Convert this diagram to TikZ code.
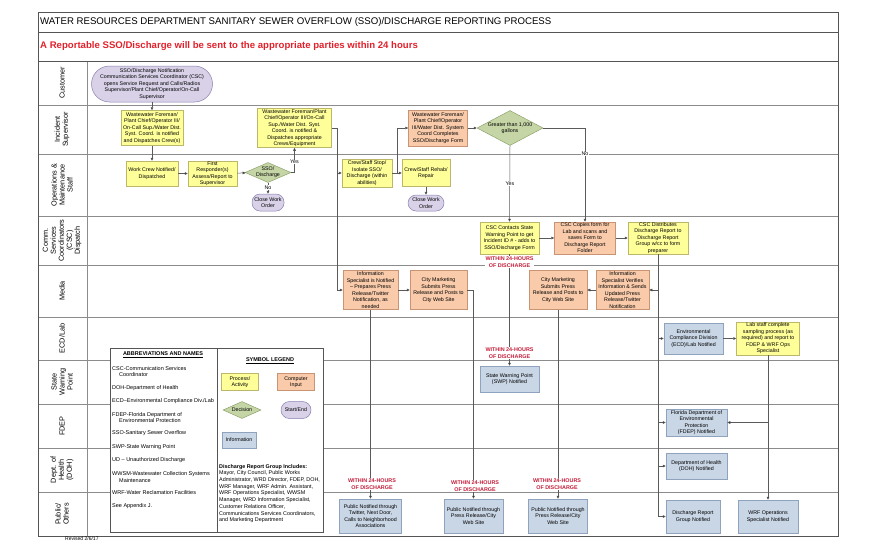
\documentclass[tikz,border=0pt]{standalone}
\usepackage{fontspec}
\setmainfont{Liberation Sans}
\usetikzlibrary{shapes.geometric,arrows.meta}
\definecolor{yfill}{HTML}{FFFF99}
\definecolor{ydraw}{HTML}{BDB76B}
\definecolor{ofill}{HTML}{F9CBAA}
\definecolor{odraw}{HTML}{C89474}
\definecolor{gfill}{HTML}{C5D5A6}
\definecolor{gdraw}{HTML}{8FA36E}
\definecolor{pfill}{HTML}{D8D1E8}
\definecolor{pdraw}{HTML}{8A80AE}
\definecolor{bfill}{HTML}{C9D6E6}
\definecolor{bdraw}{HTML}{8FA3BE}
\definecolor{titlered}{HTML}{E2202B}
\definecolor{lblred}{HTML}{C41E3A}
\definecolor{laneline}{HTML}{8C8C8C}
\definecolor{frameline}{HTML}{555555}
\definecolor{connc}{HTML}{5A5A5A}
\begin{document}
\begin{tikzpicture}[x=1pt,y=-1pt,
  base/.style={align=center, inner sep=0.5pt, font=\fontsize{5.3}{6.5}\selectfont, line width=0.5pt},
  proc/.style={base, rectangle, draw=ydraw, fill=yfill},
  comp/.style={base, rectangle, draw=odraw, fill=ofill},
  info/.style={base, rectangle, draw=bdraw, fill=bfill},
  term/.style={base, rectangle, rounded corners=#1, draw=pdraw, fill=pfill},
  dec/.style={base, diamond, draw=gdraw, fill=gfill, inner sep=0pt},
  dtext/.style={align=center, inner sep=0pt, font=\fontsize{5.3}{6}\selectfont},
  sz/.style 2 args={minimum width=#1, minimum height=#2},
  conn/.style={draw=connc, line width=0.5pt, -{Triangle[length=3pt,width=2.6pt,fill=black]}},
  lbl/.style={font=\fontsize{5.3}{6}\selectfont, fill=white, inner sep=0.6pt},
  red24/.style={font=\bfseries\fontsize{5.4}{6.3}\selectfont, text=lblred, align=center, fill=white, inner sep=0.5pt},
  lane/.style={rotate=90, align=center, font=\fontsize{7.3}{8}\selectfont},
  leg/.style={anchor=west, align=left, font=\fontsize{5.5}{6.8}\selectfont, inner sep=0pt},
  laneln/.style={draw=laneline, line width=0.6pt},
]
\useasboundingbox (0,0) rectangle (880,542);
% frame and lanes
\foreach \yy in {105,154,216,265,317,360,404,448,492} {\draw[laneln] (38,\yy) -- (838,\yy);}
\draw[laneln] (87,61) -- (87,536);
\draw[frameline, line width=0.6pt] (38,32) -- (838,32);
\draw[frameline, line width=0.6pt] (38,61) -- (838,61);
\draw[frameline, line width=0.8pt] (38,12) rectangle (838,536);
\node[anchor=west, inner sep=0pt, font=\fontsize{9.65}{11}\selectfont] (title) at (40,22) {WATER RESOURCES DEPARTMENT SANITARY SEWER OVERFLOW (SSO)/DISCHARGE REPORTING PROCESS};
\node[anchor=west, inner sep=0pt, text=titlered, font=\bfseries\fontsize{9.6}{11}\selectfont] (subtitle) at (40,46.5) {A Reportable SSO/Discharge will be sent to the appropriate parties within 24 hours};
% lane labels
\node[lane] (l1) at (62,83) {Customer};
\node[lane] (l2) at (62,129.5) {Incident\\Supervisor};
\node[lane] (l3) at (62,185) {Operations \&\\Maintenance\\Staff};
\node[lane] (l4) at (62,240.5) {Comm.\\Services\\Coordinators\\(CSC)\\Dispatch};
\node[lane] (l5) at (62,291) {Media};
\node[lane] (l6) at (62,338.5) {ECD/Lab};
\node[lane] (l7) at (62,382) {State\\Warning\\Point};
\node[lane] (l8) at (62,426) {FDEP};
\node[lane] (l9) at (62,470) {Dept. of\\Health\\(DOH)};
\node[lane] (l10) at (62,514) {Public/\\Others};
% legend box
\draw[fill=white, draw=frameline, line width=0.7pt] (110,348) rectangle (323,532);
\draw[frameline, line width=0.7pt] (217,348) -- (217,532);
\node[inner sep=0pt, font=\bfseries\fontsize{5.5}{6}\selectfont] (abh) at (163,355) {\underline{ABBREVIATIONS AND NAMES}};
\node[leg] (a1) at (112,371.5) {CSC-Communication Services\\\hspace{7pt}Coordinator};
\node[leg] (a2) at (112,388) {DOH-Department of Health};
\node[leg] (a3) at (112,401) {ECD–Environmental Compliance Div./Lab};
\node[leg] (a4) at (112,417.5) {FDEP-Florida Department of\\\hspace{7pt}Environmental Protection};
\node[leg] (a5) at (112,433) {SSO-Sanitary Sewer Overflow};
\node[leg] (a6) at (112,447) {SWP-State Warning Point};
\node[leg] (a7) at (112,460) {UD – Unauthorized Discharge};
\node[leg] (a8) at (112,477) {WWSM-Wastewater Collection Systems\\\hspace{7pt}Maintenance};
\node[leg] (a9) at (112,493) {WRF-Water Reclamation Facilities};
\node[leg] (a10) at (112,506) {See Appendix J.};
\node[inner sep=0pt, font=\bfseries\fontsize{5.5}{6}\selectfont] (slh) at (270,361) {\underline{SYMBOL LEGEND}};
\node[proc, sz={37}{17}] (lg1) at (240,382) {Process/\\Activity};
\node[comp, sz={37}{17}] (lg2) at (296,382) {Computer\\Input};
\node[dec, sz={38}{17}, label={[dtext]center:Decision}] (lg3) at (242,410) {};
\node[term=8.5, sz={30}{17}] (lg4) at (296,410) {Start/End};
\node[info, sz={34}{16}] (lg5) at (239,440) {Information};
\node[anchor=north west, align=left, inner sep=0pt, font=\fontsize{5.4}{6.7}\selectfont] (drg) at (219,464) {\textbf{Discharge Report Group Includes:}\\Mayor, City Council, Public Works\\Administrator, WRD Director, FDEP, DOH,\\WRF Manager, WRF Admin. Assistant,\\WRF Operations Specialist, WWSM\\Manager, WRD Information Specialist,\\Customer Relations Officer,\\Communications Services Coordinators,\\and Marketing Department};
\node[anchor=west, inner sep=0pt, font=\fontsize{5}{6}\selectfont] (rev) at (65,539) {Revised 2/6/17};
% customer
\node[term=18, sz={121}{36}, font=\fontsize{5.3}{6.6}\selectfont] (cust) at (152,84) {SSO/Discharge Notification\\Communication Services Coordinator (CSC)\\opens Service Request and Calls/Radios\\Supervisor/Plant Chief/Operator/On-Call\\Supervisor};
% incident supervisor
\node[proc, sz={62}{35}] (i1) at (152,128) {Wastewater Foreman/\\Plant Chief/Operator III/\\On-Call Sup./Water Dist.\\Syst. Coord. is notified\\and Dispatches Crew(s)};
\node[proc, sz={74}{39}] (i2) at (294.5,128) {Wastewater Foreman/Plant\\Chief/Operator III/On-Call\\Sup./Water Dist. Syst.\\Coord. is notified \&\\Dispatches appropriate\\Crews/Equipment};
\node[comp, sz={59}{36}] (i3) at (438,128) {Wastewater Foreman/\\Plant Chief/Operator\\III/Water Dist. System\\Coord Completes\\SSO/Discharge Form};
\node[dec, sz={66}{35}, label={[dtext]center:Greater than 1,000\\gallons}] (d1) at (510,128) {};
% operations
\node[proc, sz={52}{25}] (wc) at (152,173.5) {Work Crew Notified/\\Dispatched};
\node[proc, sz={49}{25}] (fr) at (212.5,173.5) {First\\Responder(s)\\Assess/Report to\\Supervisor};
\node[dec, sz={46}{20}, label={[dtext]center:SSO/\\Discharge}] (d2) at (268,172.5) {};
\node[term=8, sz={32}{17}] (cw1) at (268,202.5) {Close Work\\Order};
\node[proc, sz={50}{28}] (cs) at (367,173) {Crew/Staff Stop/\\Isolate SSO/\\Discharge (within\\abilities)};
\node[proc, sz={48}{27}] (rr) at (426,173) {Crew/Staff Rehab/\\Repair};
\node[term=8, sz={36}{16}] (cw2) at (426,203) {Close Work\\Order};
% CSC
\node[proc, sz={59}{32}] (c1) at (509.5,238) {CSC Contacts State\\Warning Point to get\\Incident ID \# - adds to\\SSO/Discharge Form};
\node[comp, sz={61}{32}] (c2) at (585,238) {CSC Copies form for\\Lab and scans and\\saves Form to\\Discharge Report\\Folder};
\node[proc, sz={60}{32}] (c3) at (658,238) {CSC Distributes\\Discharge Report to\\Discharge Report\\Group w/cc to form\\preparer};
% media
\node[comp, sz={55}{39}] (m1) at (370.5,290) {Information\\Specialist is Notified\\– Prepares Press\\Release/Twitter\\Notification, as\\needed};
\node[comp, sz={57}{39}] (m2) at (438.5,290) {City Marketing\\Submits Press\\Release and Posts to\\City Web Site};
\node[comp, sz={58}{39}] (m3) at (558,290) {City Marketing\\Submits Press\\Release and Posts to\\City Web Site};
\node[comp, sz={53}{39}] (m4) at (622.5,290) {Information\\Specialist Verifies\\Information \& Sends\\Updated Press\\Release/Twitter\\Notification};
% ECD/Lab
\node[info, sz={59}{31}] (e1) at (693.5,338.5) {Environmental\\Compliance Division\\(ECD)/Lab Notified};
\node[proc, sz={63}{33}] (e2) at (768,338.5) {Lab staff complete\\sampling process (as\\required) and report to\\FDEP \& WRF Ops\\Specialist};
% SWP, FDEP, DOH
\node[info, sz={59}{26}] (s1) at (509.5,379) {State Warning Point\\(SWP) Notified};
\node[info, sz={61}{27}] (f1) at (696.5,422.5) {Florida Department of\\Environmental\\Protection\\(FDEP) Notified};
\node[info, sz={61}{26}] (h1) at (696.5,466) {Department of Health\\(DOH) Notified};
% public
\node[info, sz={62}{34}] (p1) at (370.5,516) {Public Notified through\\Twitter, Next Door,\\Calls to Neighborhood\\Associations};
\node[info, sz={59}{34}] (p2) at (473.5,516) {Public Notified through\\Press Release/City\\Web Site};
\node[info, sz={59}{34}] (p3) at (558,516) {Public Notified through\\Press Release/City\\Web Site};
\node[info, sz={54}{33}] (p4) at (693,516.5) {Discharge Report\\Group Notified};
\node[info, sz={60}{33}] (p5) at (768,516.5) {WRF Operations\\Specialist Notified};
% junction coordinates
\coordinate (j1) at (337,128);
\coordinate (j2) at (397,173);
% connectors
\draw[conn] (cust) -- (i1);
\draw[conn] (i1) -- (wc);
\draw[conn] (wc) -- (fr);
\draw[conn] (fr) -- (d2);
\draw[conn] (d2.east) -| (i2.south);
\draw[conn] (d2) -- (cw1);
\draw[draw=connc, line width=0.5pt] (i2.east) -- (j1);
\draw[conn] (j1) |- (cs.west);
\draw[conn] (j1) |- (m1.west);
\draw[conn] (cs.east) -- (rr.west);
\draw[conn] (j2) |- (i3.west);
\draw[conn] (rr) -- (cw2);
\draw[conn] (i3) -- (d1);
\draw[conn] (d1.south) -- (c1.north);
\draw[conn] (d1.east) -| (c2.north);
\draw[conn] (c1) -- (c2);
\draw[conn] (c2) -- (c3);
\draw[conn] (c1.south) -- (s1.north);
\draw[conn] (c3.south) |- (m4.east);
\draw[conn] (c3.south) |- (e1.west);
\draw[conn] (c3.south) |- (f1.west);
\draw[conn] (c3.south) |- (h1.west);
\draw[conn] (c3.south) |- (p4.west);
\draw[conn] (e1) -- (e2);
\draw[conn] (e2.south) -- (p5.north);
\draw[conn] (e2.south) |- (f1.east);
\draw[conn] (m1) -- (m2);
\draw[conn] (m1.south) -- (p1.north);
\draw[conn] (m2.east) -| (p2.north);
\draw[conn] (m4) -- (m3);
\draw[conn] (m3) -- (p3);
% labels
\node[lbl] (yes1) at (294.5,162) {Yes};
\node[lbl] (no1) at (268,187.5) {No};
\node[lbl] (yes2) at (510,184) {Yes};
\node[lbl] (no2) at (585,154) {No};
\node[red24] (r1) at (509.5,262) {WITHIN 24-HOURS\\OF DISCHARGE};
\node[red24] (r2) at (509.5,353) {WITHIN 24-HOURS\\OF DISCHARGE};
\node[red24] (r3) at (372,484) {WITHIN 24-HOURS\\OF DISCHARGE};
\node[red24] (r4) at (475,486) {WITHIN 24-HOURS\\OF DISCHARGE};
\node[red24] (r5) at (557,484) {WITHIN 24-HOURS\\OF DISCHARGE};
\end{tikzpicture}
\end{document}
